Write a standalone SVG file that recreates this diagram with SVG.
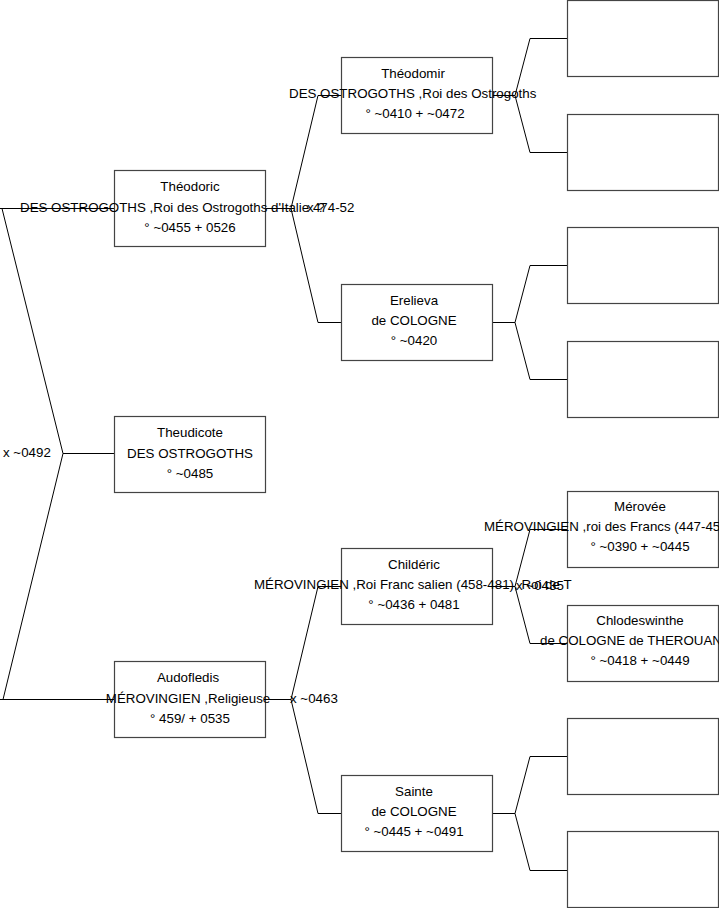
<svg xmlns="http://www.w3.org/2000/svg" width="719" height="908" viewBox="0 0 719 908">
<style>
.box{fill:#fff;stroke:#444;stroke-width:1.2}
.t{font-family:"Liberation Sans",Arial,sans-serif;font-size:13.33px;fill:#000;text-anchor:middle}
.s{text-anchor:start}
.c{fill:none;stroke:#000;stroke-width:1}
</style>
<rect width="719" height="908" fill="#fff"/>
<g id="connectors">
<path class="c" d="M0,208.5 H114 M2,208.5 L63,453.5 L3,699.5 M0,699.5 H114 M63,453.5 H114"/>
<path class="c" d="M265,208.5 H291 L318,95.5 H341 M291,208.5 L318,322.5 H341"/>
<path class="c" d="M265,699.5 H291 L318,586.5 H341 M291,699.5 L318,813.5 H341"/>
<path class="c" d="M492,95.5 H515 L530,38.5 H567 M515,95.5 L530,152.5 H567"/>
<path class="c" d="M492,322.5 H515 L530,265.5 H567 M515,322.5 L530,379.5 H567"/>
<path class="c" d="M492,586.5 H515 L530,529.5 H567 M515,586.5 L530,643.5 H567"/>
<path class="c" d="M492,813.5 H515 L530,756.5 H567 M515,813.5 L530,870.5 H567"/>
<text class="t s" x="3" y="457">x ~0492</text>
<text class="t s" x="307" y="212">x ?</text>
<text class="t s" x="290" y="703">x ~0463</text>
<text class="t s" x="516" y="590">x ~0435</text>
</g>
<g id="theodoric">
<rect class="box" x="114.5" y="170.5" width="151" height="76"/>
<text class="t" x="190" y="191">Théodoric</text>
<text class="t s" x="20" y="212">DES OSTROGOTHS ,Roi des Ostrogoths d'Italie 474-52</text>
<text class="t" x="190" y="232">° ~0455 + 0526</text>
</g>
<g id="theudicote">
<rect class="box" x="114.5" y="416.5" width="151" height="76"/>
<text class="t" x="190" y="437">Theudicote</text>
<text class="t" x="190" y="458">DES OSTROGOTHS</text>
<text class="t" x="190" y="478">° ~0485</text>
</g>
<g id="audofledis">
<rect class="box" x="114.5" y="661.5" width="151" height="76"/>
<text class="t" x="188" y="703" dy="-21">Audofledis</text>
<text class="t" x="188" y="703">MÉROVINGIEN ,Religieuse</text>
<text class="t" x="190" y="723">° 459/ + 0535</text>
</g>
<g id="theodomir">
<rect class="box" x="341.5" y="57.5" width="151" height="76"/>
<text class="t" x="413" y="78">Théodomir</text>
<text class="t s" x="289" y="98">DES OSTROGOTHS ,Roi des Ostrogoths</text>
<text class="t" x="415" y="118">° ~0410 + ~0472</text>
</g>
<g id="erelieva">
<rect class="box" x="341.5" y="284.5" width="151" height="76"/>
<text class="t" x="414" y="305">Erelieva</text>
<text class="t" x="414" y="325">de COLOGNE</text>
<text class="t" x="414" y="345">° ~0420</text>
</g>
<g id="childeric">
<rect class="box" x="341.5" y="548.5" width="151" height="76"/>
<text class="t" x="414" y="569">Childéric</text>
<text class="t s" x="254" y="589">MÉROVINGIEN ,Roi Franc salien (458-481), Roi de T</text>
<text class="t" x="414" y="609">° ~0436 + 0481</text>
</g>
<g id="sainte">
<rect class="box" x="341.5" y="775.5" width="151" height="76"/>
<text class="t" x="414" y="796">Sainte</text>
<text class="t" x="414" y="816">de COLOGNE</text>
<text class="t" x="414" y="836">° ~0445 + ~0491</text>
</g>
<g id="empty1"><rect class="box" x="567.5" y="0.5" width="151" height="76"/></g>
<g id="empty2"><rect class="box" x="567.5" y="114.5" width="151" height="76"/></g>
<g id="empty3"><rect class="box" x="567.5" y="227.5" width="151" height="76"/></g>
<g id="empty4"><rect class="box" x="567.5" y="341.5" width="151" height="76"/></g>
<g id="merovee">
<rect class="box" x="567.5" y="491.5" width="151" height="76"/>
<text class="t" x="640" y="511">Mérovée</text>
<text class="t s" x="484" y="531">MÉROVINGIEN ,roi des Francs (447-45</text>
<text class="t" x="640" y="551">° ~0390 + ~0445</text>
</g>
<g id="chlodeswinthe">
<rect class="box" x="567.5" y="605.5" width="151" height="76"/>
<text class="t" x="640" y="625">Chlodeswinthe</text>
<text class="t s" x="540" y="645">de COLOGNE de THEROUAN</text>
<text class="t" x="640" y="665">° ~0418 + ~0449</text>
</g>
<g id="empty5"><rect class="box" x="567.5" y="718.5" width="151" height="76"/></g>
<g id="empty6"><rect class="box" x="567.5" y="831.5" width="151" height="76"/></g>
</svg>
